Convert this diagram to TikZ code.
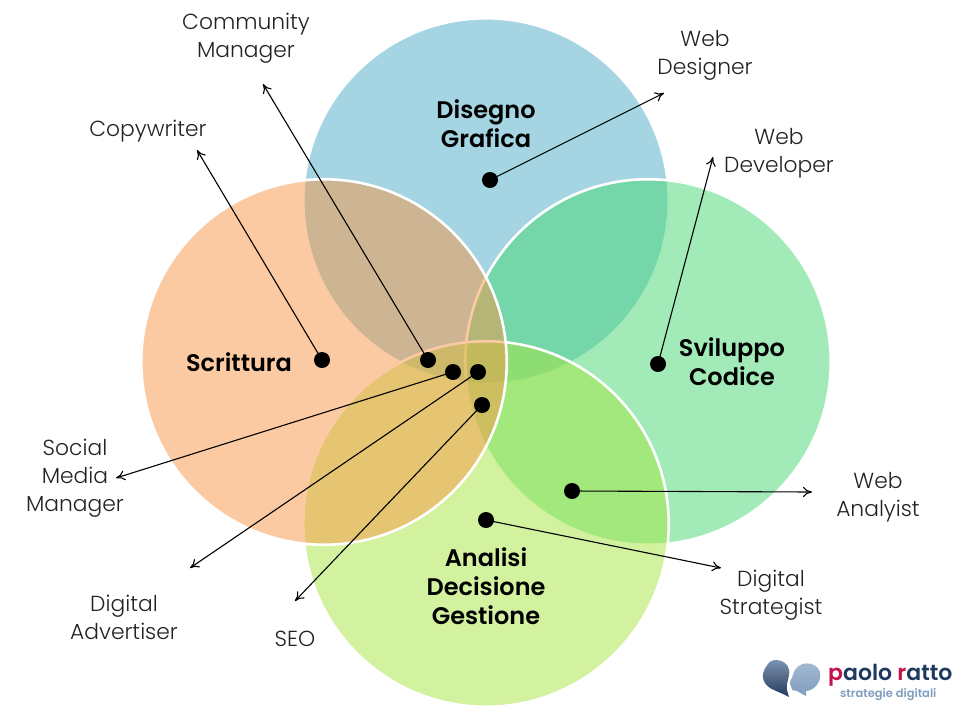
\documentclass[tikz,border=0pt]{standalone}
\usepackage{fontspec}
\setmainfont{Poppins}[UprightFont=* Light,BoldFont=* SemiBold]
\usetikzlibrary{arrows.meta}
\definecolor{cblue}{HTML}{4BACC6}
\definecolor{corange}{HTML}{F79646}
\definecolor{cgreen}{HTML}{45D671}
\definecolor{clime}{HTML}{A6E541}
\definecolor{lbl}{HTML}{222222}
\definecolor{logored}{HTML}{C4124F}
\definecolor{logonavy}{HTML}{1F3A5F}
\definecolor{logosteel}{HTML}{7F9DBE}
\tikzset{
  x=1pt,y=-1pt,
  venn/.style={circle,draw=white,line width=2.6pt,fill opacity=.5,draw opacity=1,minimum size=365.5pt,inner sep=0pt},
  dot/.style={circle,fill=black,minimum size=16pt,inner sep=0pt},
  role/.style={font=\fontsize{21.8}{28}\selectfont,text=lbl,align=center,inner sep=0pt},
  area/.style={font=\bfseries\fontsize{24}{29}\selectfont,text=black,align=center,inner sep=0pt},
  link/.style={draw=black,line width=1.1pt,-{To[length=9pt,width=10pt]}}
}
\begin{document}
\begin{tikzpicture}
\useasboundingbox (0,0) rectangle (960,715);
\node[venn,fill=cblue] (vblue) at (486,201) {};
\node[venn,fill=cgreen] (vgreen) at (648,362) {};
\node[venn,fill=clime] (vlime) at (486,524) {};
\node[venn,fill=corange] (vorange) at (324,362) {};

\node[area] (tdis) at (486,124) {Disegno\\Grafica};
\node[area] (tscr) at (239,362) {Scrittura};
\node[area] (tsvi) at (732,362) {Sviluppo\\Codice};
\node[area] (tana) at (486,586) {Analisi\\Decisione\\Gestione};

\node[role] (rcm) at (246,38.5) {Community\\Manager};
\node[role] (rcw) at (148,131) {Copywriter};
\node[role] (rwd) at (705,55.5) {Web\\Designer};
\node[role] (rwv) at (779,153.5) {Web\\Developer};
\node[role] (rsm) at (75,478.5) {Social\\Media\\Manager};
\node[role] (rda) at (124,617) {Digital\\Advertiser};
\node[role] (rse) at (295,639) {SEO};
\node[role] (rds) at (771,595) {Digital\\Strategist};
\node[role] (rwa) at (878,497.5) {Web\\Analyist};

\node[dot] (d1) at (490,180) {};
\node[dot] (d2) at (658,364) {};
\node[dot] (d3) at (572,491) {};
\node[dot] (d4) at (486,520) {};
\node[dot] (d5) at (482,405) {};
\node[dot] (d6) at (478,372) {};
\node[dot] (d7) at (453,372) {};
\node[dot] (d8) at (428,360) {};
\node[dot] (d9) at (322,360) {};

\coordinate (e1) at (664,93);
\coordinate (e2) at (713,157);
\coordinate (e3) at (812,492);
\coordinate (e4) at (721,568);
\coordinate (e5) at (295,601);
\coordinate (e6) at (190,568);
\coordinate (e7) at (116,478);
\coordinate (e8) at (263,84);
\coordinate (e9) at (197,150);
\foreach \i in {1,...,9} \draw[link] (d\i.center) -- (e\i);

% logo
\node[font=\bfseries\fontsize{22}{22}\selectfont,text=logonavy,anchor=base west,inner sep=0pt] (lname) at (828,680) {\textcolor{logored}{p}aolo \textcolor{logored}{r}atto};
\node[font=\bfseries\fontsize{11.5}{11.5}\selectfont,text=logosteel,anchor=base west,inner sep=0pt] (lsub) at (840,697) {strategie digitali};
\shade[top color=logosteel,bottom color=logonavy,middle color=logonavy!75] (789,675) .. controls (792,660) and (772,656) .. (768,664) .. controls (758,676) and (764,686) .. (774,690) .. controls (780,693) and (784,694) .. (789,697) .. controls (787,690) and (786,688) .. (787,684) -- cycle;
\shade[top color=logosteel!70,bottom color=logosteel] (793,675) .. controls (796,660) and (816,660) .. (820,672) .. controls (822,684) and (812,691) .. (806,691) -- (806,696) -- (797,691) -- (792,690) -- (790,682) -- cycle;
\end{tikzpicture}
\end{document}
